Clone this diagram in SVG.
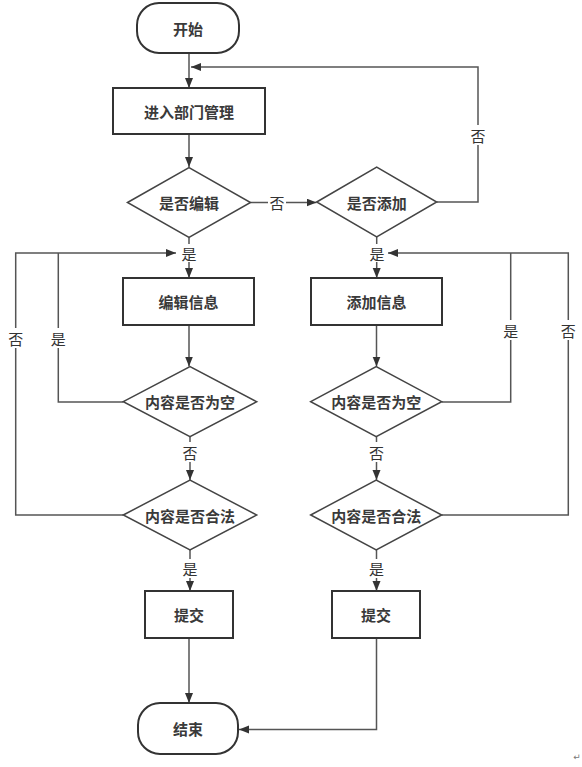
<svg xmlns="http://www.w3.org/2000/svg" width="582" height="767" viewBox="0 0 582 767">
<style>
.box{fill:#fff;stroke:#333;stroke-width:2}
.dia{fill:#fff;stroke:#444;stroke-width:1.5}
.ln{fill:none;stroke:#555;stroke-width:1.5}
.t{font-family:"Noto Sans CJK SC","Liberation Sans",sans-serif;font-size:15px;font-weight:bold;fill:#3a3a3a;text-anchor:middle;dominant-baseline:central}
.lb{font-family:"Noto Sans CJK SC","Liberation Sans",sans-serif;font-size:15px;fill:#333;text-anchor:middle;dominant-baseline:central}
.bg{fill:#fff}
</style>
<defs>
<marker id="ah" markerUnits="userSpaceOnUse" markerWidth="11" markerHeight="9" refX="10" refY="4" orient="auto">
<path d="M0,0 L10,4 L0,8 z" fill="#333"/>
</marker>
</defs>
<rect width="582" height="767" fill="#fff"/>
<g id="connectors">
<path class="ln" d="M189,53 V88" marker-end="url(#ah)"/>
<path class="ln" d="M436.7,202 H478 V67 H191" marker-end="url(#ah)"/>
<path class="ln" d="M189,134 V167" marker-end="url(#ah)"/>
<path class="ln" d="M250.5,202.5 H316.5" marker-end="url(#ah)"/>
<path class="ln" d="M189,237.5 V278" marker-end="url(#ah)"/>
<path class="ln" d="M376.7,237 V278" marker-end="url(#ah)"/>
<path class="ln" d="M123.3,515 H15.7 V253 H176" marker-end="url(#ah)"/>
<path class="ln" d="M123.3,402 H58.3 V253"/>
<path class="ln" d="M441.7,515 H568.3 V253 H388" marker-end="url(#ah)"/>
<path class="ln" d="M441.7,402 H510.7 V253"/>
<path class="ln" d="M189,325 V366.5" marker-end="url(#ah)"/>
<path class="ln" d="M376.5,325 V366.5" marker-end="url(#ah)"/>
<path class="ln" d="M190,436.7 V480" marker-end="url(#ah)"/>
<path class="ln" d="M376.5,436.7 V480" marker-end="url(#ah)"/>
<path class="ln" d="M190,550 V591" marker-end="url(#ah)"/>
<path class="ln" d="M376.5,550 V591" marker-end="url(#ah)"/>
<path class="ln" d="M189,638 V703" marker-end="url(#ah)"/>
<path class="ln" d="M376.5,638 V729.5 H239" marker-end="url(#ah)"/>
<rect class="bg" x="470" y="125" width="16" height="20"/>
<text class="lb" x="478" y="135">否</text>
<rect class="bg" x="268" y="193" width="18" height="20"/>
<text class="lb" x="277" y="202.5">否</text>
<rect class="bg" x="181" y="244" width="16" height="18"/>
<text class="lb" x="189" y="253">是</text>
<rect class="bg" x="369" y="244" width="16" height="18"/>
<text class="lb" x="377" y="253">是</text>
<rect class="bg" x="8" y="328" width="16" height="20"/>
<text class="lb" x="15.7" y="338">否</text>
<rect class="bg" x="50" y="328" width="16" height="20"/>
<text class="lb" x="58.3" y="338">是</text>
<rect class="bg" x="503" y="320" width="16" height="20"/>
<text class="lb" x="510.7" y="330">是</text>
<rect class="bg" x="560" y="320" width="16" height="20"/>
<text class="lb" x="568.3" y="330">否</text>
<rect class="bg" x="182" y="442" width="16" height="20"/>
<text class="lb" x="190" y="452">否</text>
<rect class="bg" x="368" y="442" width="16" height="20"/>
<text class="lb" x="376.5" y="452">否</text>
<rect class="bg" x="182" y="559" width="16" height="19"/>
<text class="lb" x="190" y="568.5">是</text>
<rect class="bg" x="368" y="559" width="16" height="19"/>
<text class="lb" x="376.5" y="568.5">是</text>
</g>
<g id="start"><rect class="box" x="137" y="3" width="102" height="50" rx="22"/><text class="t" x="188" y="28">开始</text></g>
<g id="enter"><rect class="box" x="113" y="88" width="152" height="46"/><text class="t" x="189" y="111">进入部门管理</text></g>
<g id="isEdit"><polygon class="dia" points="127.5,202.5 189,167.5 250.5,202.5 189,237.5"/><text class="t" x="189" y="202.5">是否编辑</text></g>
<g id="isAdd"><polygon class="dia" points="316.7,202 376.7,167 436.7,202 376.7,237"/><text class="t" x="376.7" y="202">是否添加</text></g>
<g id="editInfo"><rect class="box" x="123" y="278" width="131" height="47"/><text class="t" x="188.5" y="301.5">编辑信息</text></g>
<g id="addInfo"><rect class="box" x="311" y="278" width="131" height="47"/><text class="t" x="376.5" y="301.5">添加信息</text></g>
<g id="editEmpty"><polygon class="dia" points="123.3,401.7 190,366.7 256.7,401.7 190,436.7"/><text class="t" x="190" y="401.7">内容是否为空</text></g>
<g id="addEmpty"><polygon class="dia" points="310.7,401.7 376.2,366.7 441.7,401.7 376.2,436.7"/><text class="t" x="376.2" y="401.7">内容是否为空</text></g>
<g id="editValid"><polygon class="dia" points="123.3,515 190,480 256.7,515 190,550"/><text class="t" x="190" y="515">内容是否合法</text></g>
<g id="addValid"><polygon class="dia" points="310.7,515 376.2,480 441.7,515 376.2,550"/><text class="t" x="376.2" y="515">内容是否合法</text></g>
<g id="submitEdit"><rect class="box" x="145" y="591" width="88" height="47"/><text class="t" x="189" y="614.5">提交</text></g>
<g id="submitAdd"><rect class="box" x="332" y="591" width="88" height="47"/><text class="t" x="376" y="614.5">提交</text></g>
<g id="end"><rect class="box" x="138" y="703" width="100" height="51" rx="22"/><text class="t" x="188" y="728.5">结束</text></g>
<text x="577" y="757" font-family="DejaVu Sans,sans-serif" font-size="9" fill="#777" text-anchor="middle" dominant-baseline="central">↵</text>
</svg>
